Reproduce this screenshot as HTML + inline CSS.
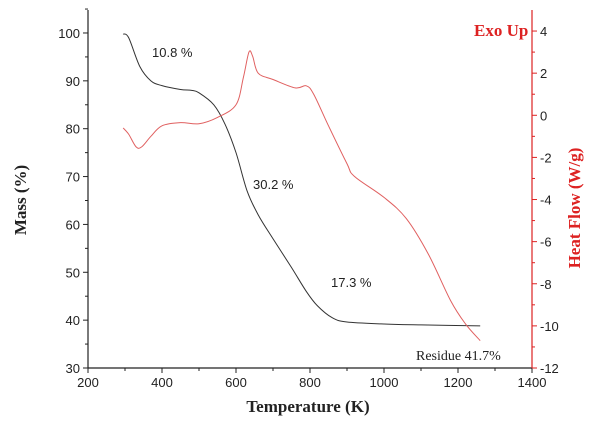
<!DOCTYPE html>
<html><head><meta charset="utf-8"><style>
body{margin:0;background:#fff;}
svg{display:block;}
.tk{font-family:"Liberation Sans",sans-serif;font-size:13px;fill:#222;}
.rt{font-family:"Liberation Sans",sans-serif;font-size:13px;fill:#222;}
.ttl{font-family:"Liberation Serif",serif;font-weight:bold;font-size:17px;}
</style></head><body>
<svg id="c" width="603" height="432"></svg>
<script>
const massT=[295,310,340,370,400,450,480,500,540,570,600,630,660,700,750,790,820,860,900,1000,1100,1260];
const massV=[99.8,99,93,90,89,88.2,88,87.5,85,81,75,67,62,57,51,46,43,40.5,39.6,39.2,39.0,38.8];
const heatT=[295,310,330,345,370,400,450,500,550,600,620,635,645,660,700,760,790,810,850,900,920,1000,1060,1120,1180,1220,1260];
const heatV=[-0.6,-0.9,-1.5,-1.5,-1,-0.5,-0.35,-0.4,-0.1,0.5,1.8,3.0,2.8,2.0,1.7,1.3,1.4,1.0,-0.5,-2.3,-2.9,-3.9,-4.9,-6.6,-8.8,-9.9,-10.7];
const xTicks=[200,400,600,800,1000,1200,1400];
const yTicks=[30,40,50,60,70,80,90,100];
const rTicks=[-12,-10,-8,-6,-4,-2,0,2,4];
const NS="http://www.w3.org/2000/svg";
const svg=document.getElementById('c');
const X0=88,X1=532,YB=368;
const x=t=>X0+(t-200)/1200*(X1-X0);
const y=m=>YB-(m-30)*4.786;
const yr=h=>YB-(h+12)*21.06;
function el(tag,attrs,parent){const e=document.createElementNS(NS,tag);for(const k in attrs)e.setAttribute(k,attrs[k]);(parent||svg).appendChild(e);return e;}
function smooth(pts){let d='M'+pts[0][0]+','+pts[0][1];
 for(let i=0;i<pts.length-1;i++){const p0=pts[Math.max(0,i-1)],p1=pts[i],p2=pts[i+1],p3=pts[Math.min(pts.length-1,i+2)];
  const c1x=p1[0]+(p2[0]-p0[0])/6,c1y=p1[1]+(p2[1]-p0[1])/6,c2x=p2[0]-(p3[0]-p1[0])/6,c2y=p2[1]-(p3[1]-p1[1])/6;
  d+=' C'+c1x+','+c1y+' '+c2x+','+c2y+' '+p2[0]+','+p2[1];}
 return d;}
let a=el('line',{x1:X0,y1:10,x2:X0,y2:YB,stroke:'#222','stroke-width':1.2});

a=el('line',{x1:X0,y1:YB,x2:X1,y2:YB,stroke:'#222','stroke-width':1.2});

a=el('line',{x1:X1,y1:10,x2:X1,y2:YB,stroke:'#d22','stroke-width':1.2});

xTicks.forEach(t=>{el('line',{x1:x(t),y1:YB,x2:x(t),y2:YB+5,stroke:'#222'});
 if(t<1400)el('line',{x1:x(t+100),y1:YB,x2:x(t+100),y2:YB+3,stroke:'#222'});
 const e=el('text',{x:x(t),y:YB+19,'text-anchor':'middle',class:'tk'});e.textContent=t;
 });
yTicks.forEach(m=>{el('line',{x1:X0-5,y1:y(m),x2:X0,y2:y(m),stroke:'#222'});
 el('line',{x1:X0-3,y1:y(m+5),x2:X0,y2:y(m+5),stroke:'#222'});
 const e=el('text',{x:X0-8,y:y(m)+5,'text-anchor':'end',class:'tk'});e.textContent=m;
 });
rTicks.forEach(h=>{el('line',{x1:X1,y1:yr(h),x2:X1+5,y2:yr(h),stroke:'#d22'});
 if(h<4)el('line',{x1:X1,y1:yr(h+1),x2:X1+3,y2:yr(h+1),stroke:'#d22'});
 const e=el('text',{x:X1+8,y:yr(h)+5,'text-anchor':'start',class:'rt'});e.textContent=h;
 });
let p=el('path',{d:smooth(massT.map((t,i)=>[x(t),y(massV[i])])),fill:'none',stroke:'#333','stroke-width':1});

p=el('path',{d:smooth(heatT.map((t,i)=>[x(t),yr(heatV[i])])),fill:'none',stroke:'#e06060','stroke-width':1});

function txt(s,attrs,name){const e=el('text',attrs);e.textContent=s;return e;}
txt('10.8 %',{x:152,y:57,class:'tk'},'annotation-10-8');
txt('30.2 %',{x:253,y:189,class:'tk'},'annotation-30-2');
txt('17.3 %',{x:331,y:287,class:'tk'},'annotation-17-3');
txt('Residue 41.7%',{x:416,y:360,style:'font-family:"Liberation Serif",serif;font-size:14px;fill:#222'},'annotation-residue');
txt('Exo Up',{x:474,y:36,class:'ttl',fill:'#d22'},'exo-up-label');
txt('Temperature (K)',{x:308,y:412,'text-anchor':'middle',class:'ttl',fill:'#222'},'x-axis-title');
txt('Mass (%)',{x:0,y:0,'text-anchor':'middle',class:'ttl',fill:'#222',transform:'translate(26,200) rotate(-90)'},'y-axis-title');
txt('Heat Flow (W/g)',{x:0,y:0,'text-anchor':'middle',class:'ttl',fill:'#d22',transform:'translate(580,208) rotate(-90)'},'right-axis-title');
</script>
</body></html>
